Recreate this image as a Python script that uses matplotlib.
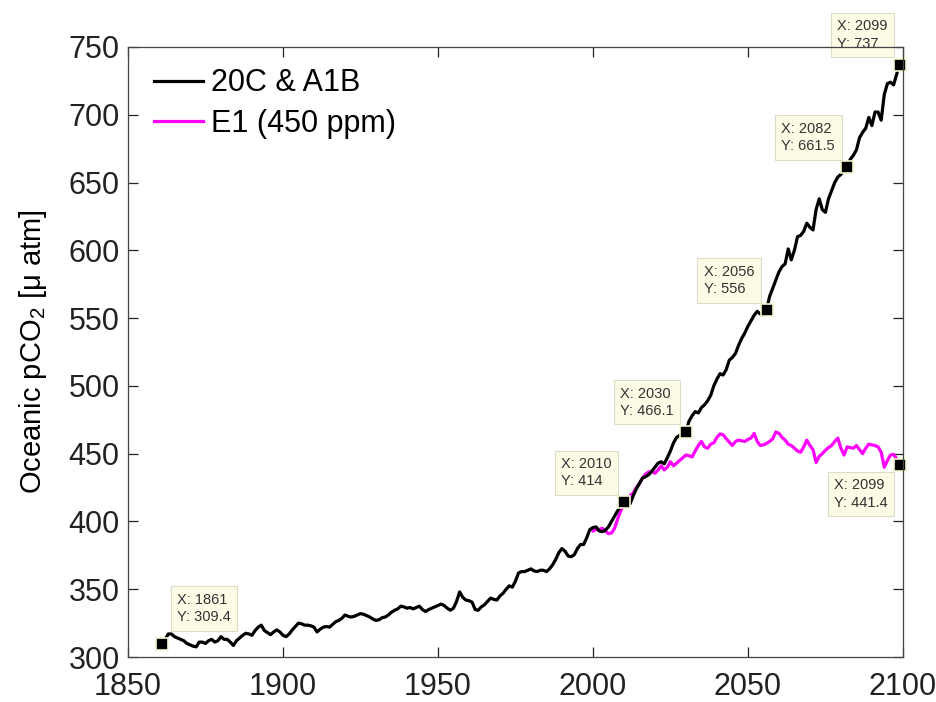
import numpy as np
import matplotlib.pyplot as plt

plt.rcParams['font.family'] = ['Liberation Sans', 'DejaVu Sans']
plt.rcParams['mathtext.default'] = 'regular'

# 20C & A1B run, annual means 1861-2099
years_a1b = np.arange(1861, 2100)
pco2_a1b = [
    309.4, 313, 317, 317, 315, 314, 313, 312, 310, 309,
    308, 307.5, 311, 311, 310, 312, 313, 311, 312, 315,
    313, 313, 311, 308.5, 312, 314, 316, 317.5, 317, 316,
    319.5, 322, 323.5, 319.5, 318, 316.5, 318.5, 320, 318.5, 316,
    315, 317, 320, 322.5, 325, 324.5, 323.5, 323.5, 323, 322,
    318.5, 320.5, 322, 322.5, 322, 324, 326, 327, 328.5, 331,
    330, 329.5, 330, 331, 332, 331.5, 330.5, 329.5, 328, 327,
    327.5, 329, 329.5, 331, 333, 334.5, 335.5, 337.5, 337, 336,
    336.5, 335.5, 336.5, 337.5, 335, 333.5, 335, 336, 337, 338,
    339, 338, 336, 334.5, 336, 341, 348, 344, 342, 341.5,
    340.5, 335, 334.5, 337, 338.5, 341, 343.5, 342.5, 342, 345,
    347, 350, 352.5, 351.5, 356, 362, 363, 363, 364, 365,
    363.5, 363, 364, 364, 363, 365, 368, 372, 377, 380,
    378, 374.5, 374, 375.5, 380, 383, 383, 388, 394, 395.5,
    396, 393, 392.5, 393.5, 396, 400, 404, 408, 411, 414,
    411, 413, 419, 424, 428, 432, 433, 434.5, 437, 440,
    443, 444, 442.5, 447, 452, 458, 462, 463.5, 464, 466.1,
    474, 478, 481, 480, 484, 486, 489, 493, 500, 505,
    509, 508, 512, 519, 521, 524, 530, 535, 539, 544,
    548, 552, 555, 553, 552, 556, 566, 572, 578, 584,
    588, 590, 601, 593, 600, 610, 611, 614, 620, 617,
    615, 630, 638, 630, 628, 638, 644, 650, 654, 656,
    659, 661.5, 667, 670, 674, 683, 687, 690, 698, 692,
    702, 702, 696, 715, 723, 724, 722, 730, 737,
]

# E1 stabilisation run (450 ppm), 2000-2099
years_e1 = np.arange(2000, 2100)
pco2_e1 = [
    393, 394, 394, 395, 393, 391, 391.5, 395, 402, 408,
    412, 416, 419, 421, 425, 428, 432, 435, 436.5, 437,
    435.5, 438, 441, 438, 440, 444, 441, 443, 445, 447,
    449, 448.5, 447.5, 452, 456, 459, 455, 454, 457, 458,
    462, 464.5, 464, 461, 458.5, 456, 459, 460, 459.5, 459,
    460.5, 461.5, 465, 459, 456, 456.5, 457.5, 459, 461, 466,
    465, 462, 460, 457, 456, 454, 452, 451, 455, 460,
    456, 453, 443.5, 448, 450, 452.5, 454.5, 456, 459, 461.5,
    454, 449, 455, 454.5, 454, 456, 453, 450, 454, 457,
    456.5, 456, 455, 451, 440, 445, 449, 449.5, 446, 441.4,
]

# years marked with a data tip on each run
tip_years_a1b = [1861, 2010, 2030, 2056, 2082, 2099]
tip_years_e1 = [2099]

fig = plt.figure(figsize=(9.37, 7.02), dpi=100)
ax = fig.add_axes([0.1366, 0.0641, 0.827, 0.869])

ax.plot(years_a1b, pco2_a1b, color='black', lw=2.3, label='20C & A1B', zorder=2)
ax.plot(years_e1, pco2_e1, color='#ff00ff', lw=2.3, label='E1 (450 ppm)', zorder=1.9)

box = dict(boxstyle='square,pad=0.45', fc='#fbfbe6', ec='#dcdcc8', lw=0.8)


def data_tip(x, y, dx, dy, ha, va):
    ax.plot([x], [y], 's', color='black', ms=8, mec='#f6f6cf', mew=1.2,
            zorder=2.3, clip_on=False)
    ax.annotate(f'X: {x}\nY: {y:g}', xy=(x, y), xytext=(dx, dy),
                textcoords='offset pixels', ha=ha, va=va, multialignment='left',
                fontsize=10.5, color='#333333', linespacing=1.3, bbox=box,
                annotation_clip=False, zorder=2.4)


for yr in tip_years_a1b:
    val = pco2_a1b[yr - years_a1b[0]]
    if yr == 1861:
        data_tip(yr, val, 15, 20, 'left', 'bottom')
    else:
        data_tip(yr, val, -12, 14, 'right', 'bottom')

for yr in tip_years_e1:
    val = pco2_e1[yr - years_e1[0]]
    data_tip(yr, val, -12, -13, 'right', 'top')

ax.set_xlim(1850, 2100)
ax.set_ylim(300, 750)
ax.set_xticks(np.arange(1850, 2101, 50))
ax.set_yticks(np.arange(300, 751, 50))
ax.tick_params(direction='in', length=7, width=0.9, top=True, right=True,
               labelsize=22, colors='#222222')
ax.tick_params(axis='x', pad=11)
ax.tick_params(axis='y', pad=6)
for sp in ax.spines.values():
    sp.set_linewidth(0.9)
    sp.set_color('#444444')

ax.set_ylabel('Oceanic pCO$_2$ [μ atm]', fontsize=21, labelpad=14)

ax.legend(loc='upper left', frameon=False, fontsize=22, handlelength=1.6,
          handletextpad=0.25, labelspacing=0.35, borderaxespad=0.2,
          bbox_to_anchor=(0.01, 0.995))

fig.savefig('out.png', dpi=100)
